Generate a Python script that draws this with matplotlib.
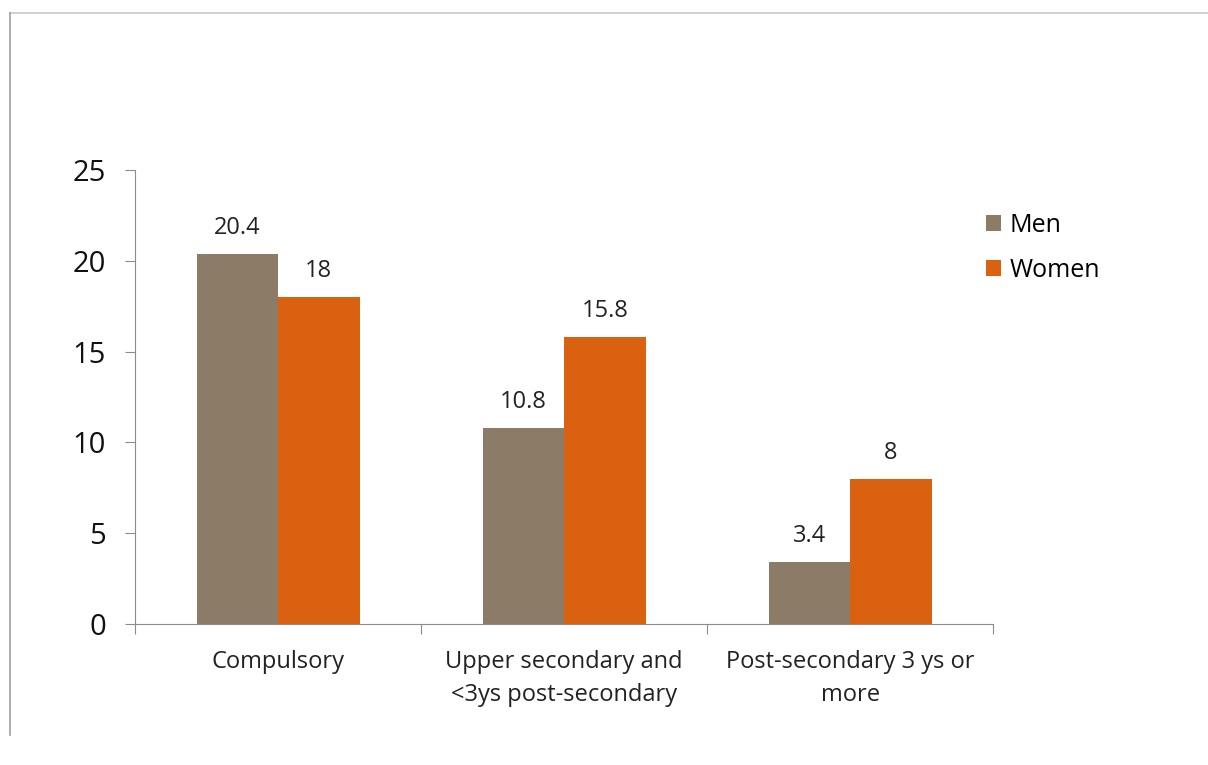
import matplotlib.pyplot as plt
from matplotlib.lines import Line2D
import numpy as np

categories = ['Compulsory', 'Upper secondary and\n<3ys post-secondary', 'Post-secondary 3 ys or\nmore']
men = [20.4, 10.8, 3.4]
women = [18, 15.8, 8]
series_names = ['Men', 'Women']
yticks = [0, 5, 10, 15, 20, 25]

plt.rcParams['font.family'] = ['Open Sans', 'DejaVu Sans']

fig = plt.figure(figsize=(12.08, 7.65), dpi=100)
ax = fig.add_axes([0.1118, 0.1843, 0.7103, 0.5935])

x = np.arange(len(categories))
w = 0.285
b1 = ax.bar(x - w / 2, men, w, color='#8B7B67', label=series_names[0])
b2 = ax.bar(x + w / 2, women, w, color='#D9610F', label=series_names[1])

for bars, vals in ((b1, men), (b2, women)):
    for r, v in zip(bars, vals):
        ax.annotate(f'{v:g}', (r.get_x() + r.get_width() / 2, v),
                    xytext=(0, 10), textcoords='offset points',
                    ha='center', va='bottom', fontsize=17, color='#222222')

ax.set_xlim(-0.5, 2.5)
ax.set_ylim(0, 25)
ax.set_yticks(yticks)
ax.tick_params(axis='y', labelsize=21, length=7, color='#8c8c8c', pad=14, labelcolor='#111111')

# ticks on x sit between categories
ax.set_xticks([-0.5, 0.5, 1.5, 2.5])
ax.set_xticklabels([])
ax.tick_params(axis='x', length=7, color='#8c8c8c')
for i, c in enumerate(categories):
    ax.text(i, -1.45, c, ha='center', va='top', fontsize=17, color='#222222',
            linespacing=1.5)

for s in ['top', 'right']:
    ax.spines[s].set_visible(False)
for s in ['left', 'bottom']:
    ax.spines[s].set_color('#8c8c8c')

leg = ax.legend(loc='upper left', bbox_to_anchor=(0.965, 0.955), frameon=False,
                fontsize=18, handlelength=0.6, handleheight=0.6,
                handletextpad=0.35, labelspacing=0.8)

# frame lines of the original slide
fig.add_artist(Line2D([10 / 1208, 1], [1 - 13 / 765, 1 - 13 / 765], color='#c8c8c8', lw=1.2))
fig.add_artist(Line2D([10 / 1208, 10 / 1208], [1 - 13 / 765, 1 - 735 / 765], color='#a0a0a0', lw=1.2))

fig.savefig('out.png', dpi=100)
